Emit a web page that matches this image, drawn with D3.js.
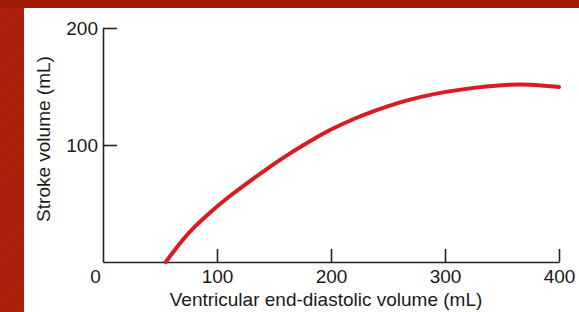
<!DOCTYPE html>
<html>
<head>
<meta charset="utf-8">
<script src="https://cdn.jsdelivr.net/npm/d3@7"></script>
<style>
  html, body { margin: 0; padding: 0; background: #b2220e; }
  svg { display: block; }
  .axis text { font-family: "Liberation Sans", Arial, sans-serif; font-size: 19px; fill: #1a1a1a; }
  .axis path, .axis line { stroke: #222; stroke-width: 1.6px; }
  .title { font-family: "Liberation Sans", Arial, sans-serif; font-size: 19px; fill: #1a1a1a; }
</style>
</head>
<body>
<div id="chart"></div>
<script>
// curve: end-diastolic volume (mL) vs stroke volume (mL)
const edv = [55, 70, 80, 95, 110, 125, 140, 160, 180, 200, 220, 240, 260, 280, 300, 325, 350, 375, 400];
const strokeVol = [0, 19.5, 30, 43.5, 55.5, 66.5, 77, 90.5, 102.5, 113.5, 122.5, 130, 136.5, 141.5, 145.5, 149, 151.5, 152, 149.5];

const xTicks = [0, 100, 200, 300, 400];
const yTicks = [100, 200];

const width = 579, height = 312;
const svg = d3.select('#chart').append('svg')
    .attr('width', width)
    .attr('height', height);

// red slide background with faint diagonal stripes
const defs = svg.append('defs');
const pat = defs.append('pattern')
    .attr('id', 'stripes')
    .attr('width', 4).attr('height', 4)
    .attr('patternUnits', 'userSpaceOnUse')
    .attr('patternTransform', 'rotate(45)');
pat.append('rect').attr('width', 4).attr('height', 4).attr('fill', '#b2220e');
pat.append('rect').attr('width', 2).attr('height', 4).attr('fill', '#a81f0c');

svg.append('rect').attr('width', width).attr('height', height).attr('fill', 'url(#stripes)');
svg.append('rect').attr('width', width).attr('height', 8).attr('fill', '#9e1a04');

// white panel
svg.append('rect')
    .attr('x', 24).attr('y', 8)
    .attr('width', width - 24).attr('height', height - 8)
    .attr('fill', '#fff');

const x = d3.scaleLinear().domain([0, 400]).range([103, 559]);
const y = d3.scaleLinear().domain([0, 200]).range([262, 28]);

// x axis, ticks pointing up
const gx = svg.append('g')
    .attr('class', 'axis')
    .attr('transform', `translate(0,${y(0)})`)
    .call(d3.axisBottom(x).tickValues(xTicks).tickSize(-13).tickSizeOuter(0).tickPadding(21));
gx.selectAll('.tick text').attr('dy', '0');
gx.selectAll('.tick').filter(d => d === 0).select('line').remove();
gx.selectAll('.tick').filter(d => d === 0).select('text').attr('dx', -8);

// y axis, ticks pointing right
const gy = svg.append('g')
    .attr('class', 'axis')
    .attr('transform', `translate(${x(0)},0)`)
    .call(d3.axisLeft(y).tickValues(yTicks).tickSize(-14).tickSizeOuter(0).tickPadding(5));
gy.selectAll('.tick text').attr('dy', '0.36em');

// curve
const line = d3.line()
    .x((d, i) => x(edv[i]))
    .y(d => y(d))
    .curve(d3.curveBasis);

svg.append('path')
    .datum(strokeVol)
    .attr('d', line)
    .attr('fill', 'none')
    .attr('stroke', '#d81c22')
    .attr('stroke-width', 4)
    .attr('stroke-linecap', 'round');

// axis titles
svg.append('text')
    .attr('class', 'title')
    .attr('x', 326).attr('y', 306)
    .attr('text-anchor', 'middle')
    .text('Ventricular end-diastolic volume (mL)');

svg.append('text')
    .attr('class', 'title')
    .attr('transform', 'translate(50,139) rotate(-90)')
    .attr('text-anchor', 'middle')
    .text('Stroke volume (mL)');
</script>
</body>
</html>
